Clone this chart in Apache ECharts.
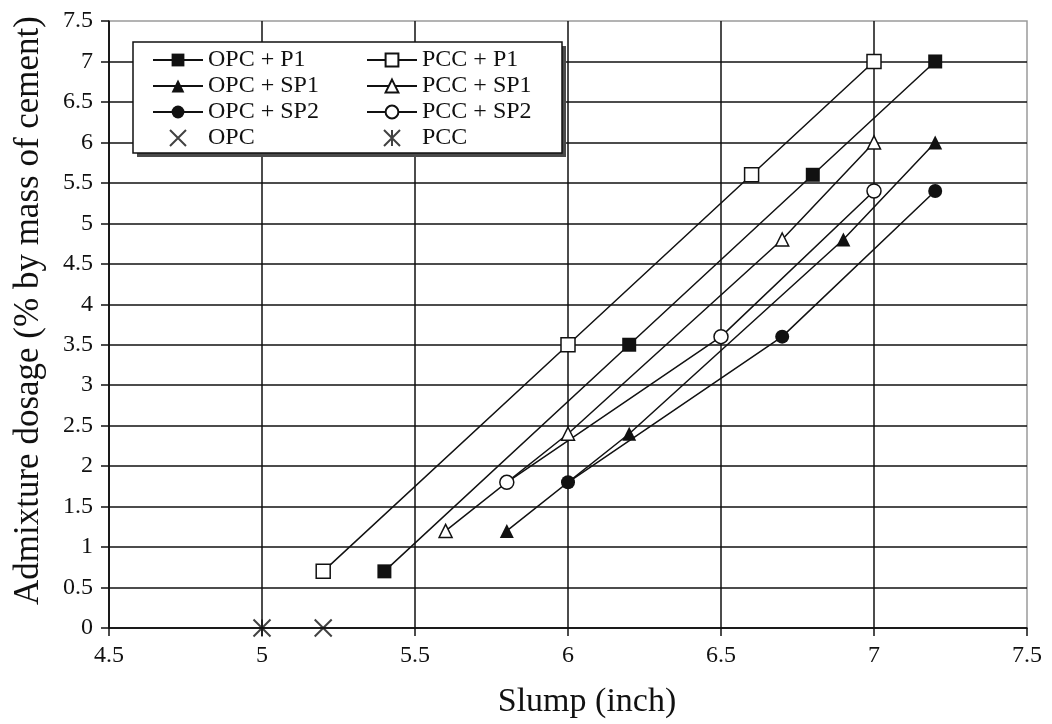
<!DOCTYPE html>
<html>
<head>
<meta charset="utf-8">
<script src="https://cdn.jsdelivr.net/npm/echarts@6/dist/echarts.min.js"></script>
<style>
  html, body { margin: 0; padding: 0; background: #fff; }
  #container { width: 1052px; height: 724px; }
</style>
</head>
<body>
<div id="container"></div>
<script>
var dom = document.getElementById("container");
var myChart = echarts.init(dom);

// [slump (inch), admixture dosage (%)]
var opcP1 = [[5.4, 0.7], [6.2, 3.5], [6.8, 5.6], [7.2, 7.0]];
var pccP1 = [[5.2, 0.7], [6.0, 3.5], [6.6, 5.6], [7.0, 7.0]];
var opcSp1 = [[5.8, 1.2], [6.2, 2.4], [6.9, 4.8], [7.2, 6.0]];
var pccSp1 = [[5.6, 1.2], [6.0, 2.4], [6.7, 4.8], [7.0, 6.0]];
var opcSp2 = [[6.0, 1.8], [6.7, 3.6], [7.2, 5.4]];
var pccSp2 = [[5.8, 1.8], [6.5, 3.6], [7.0, 5.4]];
var opcPlain = [[5.2, 0]];
var pccPlain = [[5.0, 0]];

var legendLeft = ['OPC + P1', 'OPC + SP1', 'OPC + SP2', 'OPC'];
var legendRight = ['PCC + P1', 'PCC + SP1', 'PCC + SP2', 'PCC'];

var ink = '#111';
var serif = 'Liberation Serif';
var crossPath = 'path://M0,0L10,10M10,0L0,10';
var starPath = 'path://M0,0L10,10M10,0L0,10M5,0L5,10';

function lineSeries(name, data, symbol, size, open) {
    return {
        name: name,
        type: 'line',
        data: data,
        symbol: symbol,
        symbolSize: size,
        showAllSymbol: true,
        clip: false,
        z: 3,
        lineStyle: { color: ink, width: 1.5 },
        itemStyle: {
            color: open ? '#fff' : ink,
            borderColor: ink,
            borderWidth: open ? 1.5 : 0
        },
        emphasis: { disabled: true }
    };
}

function markSeries(name, data, path) {
    return {
        name: name,
        type: 'scatter',
        data: data,
        symbol: path,
        symbolSize: 17,
        clip: false,
        z: 3,
        itemStyle: {
            color: 'rgba(0,0,0,0)',
            borderColor: ink,
            borderWidth: 2
        },
        emphasis: { disabled: true }
    };
}

var legendBase = {
    orient: 'vertical',
    top: 48,
    padding: 0,
    itemGap: 2,
    itemWidth: 50,
    itemHeight: 16,
    z: 100,
    selectedMode: false,
    textStyle: { fontFamily: serif, fontSize: 24, color: ink }
};

option = {
    animation: false,
    backgroundColor: '#fff',
    grid: {
        left: 109,
        right: 25,
        top: 21,
        bottom: 93,
        show: true,
        borderColor: '#9a9a9a',
        borderWidth: 1.5
    },
    graphic: {
        elements: [{
            type: 'rect',
            z: 49,
            shape: { x: 137, y: 46, width: 429, height: 111 },
            style: { fill: '#4a4a4a' }
        }, {
            type: 'rect',
            z: 50,
            shape: { x: 133, y: 42, width: 429, height: 111 },
            style: { fill: '#fff', stroke: ink, lineWidth: 1.5 }
        }]
    },
    legend: [
        Object.assign({}, legendBase, { left: 152, data: legendLeft }),
        Object.assign({}, legendBase, { left: 366, data: legendRight })
    ],
    xAxis: {
        type: 'value',
        min: 4.5,
        max: 7.5,
        interval: 0.5,
        name: 'Slump (inch)',
        nameLocation: 'middle',
        nameGap: 57,
        nameTextStyle: { fontFamily: serif, fontSize: 34, color: ink, padding: [0, 0, 0, 38] },
        axisLine: { lineStyle: { color: ink, width: 1.5 } },
        axisTick: { show: true, length: 8, lineStyle: { color: ink, width: 1.5 } },
        axisLabel: { margin: 16, fontFamily: serif, fontSize: 24, color: ink },
        splitLine: { show: true, showMaxLine: false, lineStyle: { color: ink, width: 1.5 } }
    },
    yAxis: {
        type: 'value',
        min: 0,
        max: 7.5,
        interval: 0.5,
        name: 'Admixture dosage (% by mass of cement)',
        nameLocation: 'middle',
        nameGap: 63,
        nameTextStyle: { fontFamily: serif, fontSize: 35, color: ink, padding: [0, 0, 0, 28] },
        axisLine: { show: true, lineStyle: { color: ink, width: 1.5 } },
        axisTick: { show: true, length: 8, lineStyle: { color: ink, width: 1.5 } },
        axisLabel: { margin: 16, fontFamily: serif, fontSize: 24, color: ink },
        splitLine: { show: true, showMaxLine: false, lineStyle: { color: ink, width: 1.5 } }
    },
    series: [
        lineSeries('OPC + P1', opcP1, 'rect', 14, false),
        lineSeries('OPC + SP1', opcSp1, 'triangle', 14, false),
        lineSeries('OPC + SP2', opcSp2, 'circle', 14, false),
        markSeries('OPC', opcPlain, crossPath),
        lineSeries('PCC + P1', pccP1, 'rect', 14, true),
        lineSeries('PCC + SP1', pccSp1, 'triangle', 13, true),
        lineSeries('PCC + SP2', pccSp2, 'circle', 14, true),
        markSeries('PCC', pccPlain, starPath)
    ]
};

if (option && typeof option === "object") {
    myChart.setOption(option, true);
}
</script>
</body>
</html>
